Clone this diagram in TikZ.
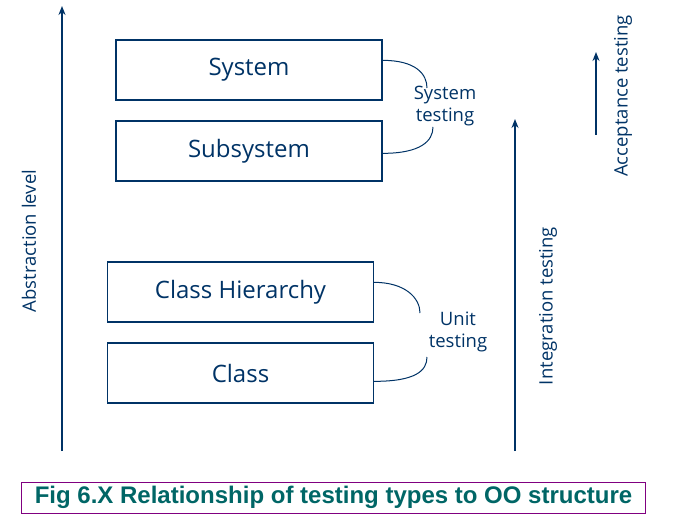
\documentclass[tikz,border=0pt]{standalone}
\usepackage{fontspec}
\setmainfont{Open Sans}
\newfontfamily\capfont{Liberation Sans}
\usetikzlibrary{arrows.meta,calc}
\definecolor{navy}{RGB}{0,51,102}
\definecolor{capteal}{RGB}{0,102,102}
\definecolor{cappurple}{RGB}{128,0,128}
\begin{document}
\begin{tikzpicture}[x=1pt,y=-1pt,
  levelbox/.style={draw=navy,line width=1.3pt,minimum width=266pt,minimum height=60pt,inner sep=0pt,text=navy,font=\fontsize{24}{28}\selectfont},
  lbl/.style={text=navy,font=\fontsize{18.5}{22}\selectfont,align=center,inner sep=0pt},
  axis/.style={draw=navy,line width=2pt,-{Stealth[length=9pt,width=7pt]}},
  brace/.style={draw=navy,line width=1pt}]
\path[use as bounding box] (0,0) rectangle (697,532);
% boxes
\node[levelbox] (sys) at (249,70) {System};
\node[levelbox] (sub) at (249,151) {Subsystem};
\node[levelbox] (hier) at (240.5,292) {Class Hierarchy};
\node[levelbox] (cls) at (240.5,373) {Class};
% labels
\node[lbl] (systest) at (445,106) {System\\testing};
\node[lbl] (unittest) at (458,332) {Unit\\testing};
% curves
\coordinate (c1) at (427,88);
\coordinate (c2) at (433,127);
\coordinate (c3) at (420,313);
\coordinate (c4) at (427,357);
\draw[brace] ($(sys.north east)+(0,21)$) .. controls +(33,0) and (427,74) .. (c1);
\draw[brace] ($(sub.north east)+(0,33)$) .. controls +(38,0) and (433,141) .. (c2);
\draw[brace] ($(hier.north east)+(0,21)$) .. controls +(31,0) and (420,298) .. (c3);
\draw[brace] ($(cls.north east)+(0,39)$) .. controls +(41,0) and (427,371) .. (c4);
% axes
\coordinate (a0) at (62,451);
\coordinate (a1) at (62,6);
\draw[axis] (a0) -- (a1);
\node[lbl,rotate=90] (abs) at (29,241) {Abstraction level};
\coordinate (i0) at (515,451);
\coordinate (i1) at (515,119);
\draw[axis] (i0) -- (i1);
\node[lbl,rotate=90] (integ) at (548,306) {Integration testing};
\coordinate (t0) at (596,135);
\coordinate (t1) at (596,52);
\draw[axis] (t0) -- (t1);
\node[lbl,rotate=90] (accept) at (623,96) {Acceptance testing};
% caption
\node[draw=cappurple,line width=1pt,minimum width=624pt,minimum height=31pt,inner sep=0pt,text=capteal,font=\capfont\bfseries\fontsize{24}{28}\selectfont] (cap) at (333.5,497.5) {Fig 6.X Relationship of testing types to OO structure};
\end{tikzpicture}
\end{document}
